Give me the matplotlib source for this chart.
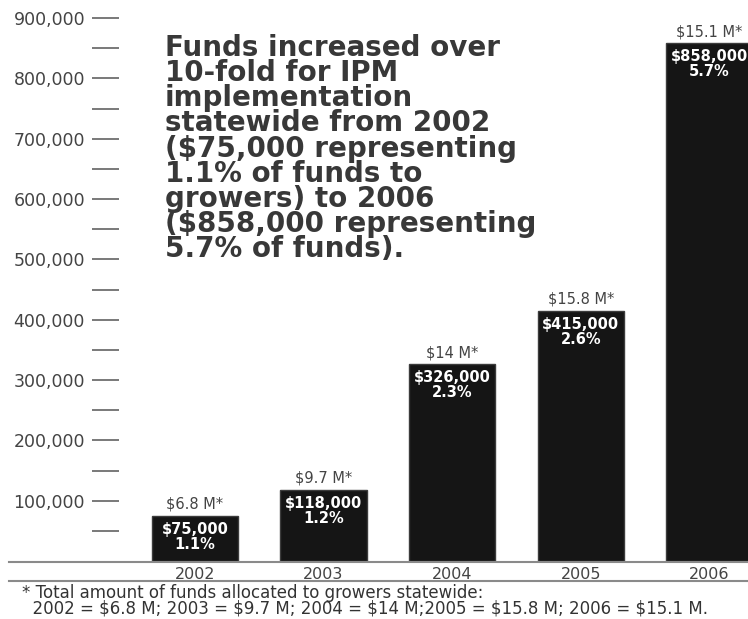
import numpy as np
import matplotlib as mpl
from matplotlib import pyplot as plt
from matplotlib.lines import Line2D
from matplotlib.ticker import FuncFormatter, FixedLocator

years = ['2002', '2003', '2004', '2005', '2006']
funds = [75000, 118000, 326000, 415000, 858000]
pct_labels = ['1.1%', '1.2%', '2.3%', '2.6%', '5.7%']
total_labels = ['$6.8 M*', '$9.7 M*', '$14 M*', '$15.8 M*', '$15.1 M*']

note = ('Funds increased over\n10-fold for IPM\nimplementation\n'
        'statewide from 2002\n($75,000 representing\n1.1% of funds to\n'
        'growers) to 2006\n($858,000 representing\n5.7% of funds).')
footnote = ('* Total amount of funds allocated to growers statewide:\n'
            '  2002 = $6.8 M; 2003 = $9.7 M; 2004 = $14 M;2005 = $15.8 M; '
            '2006 = $15.1 M.')

plt.rcParams['font.family'] = ['DejaVu Sans']
W, H = 748, 619
fig = plt.figure(figsize=(W / 100, H / 100), dpi=100)
ax = fig.add_axes([92 / W, (H - 561) / H, (W - 92) / W, (561 - 6) / H])

x = np.arange(len(years))
ax.bar(x, funds, width=0.67, color='#151515', edgecolor='#3c3c3c', linewidth=1)
ax.set_xlim(-0.80, 4.30)
ax.set_ylim(0, 920000)

for xi, v, t, p in zip(x, funds, total_labels, pct_labels):
    ax.annotate(t, (xi, v), xytext=(0, 4), textcoords='offset pixels',
                ha='center', va='bottom', fontsize=10.5, color='#444444')
    ax.annotate('$' + format(v, ',') + '\n' + p, (xi, v), xytext=(0, -6),
                textcoords='offset pixels', ha='center', va='top',
                fontsize=10.5, fontweight='bold', color='white', linespacing=1.0)

for s in ax.spines.values():
    s.set_visible(False)

ax.yaxis.set_major_locator(FixedLocator(np.arange(100000, 900001, 100000)))
ax.yaxis.set_minor_locator(FixedLocator(np.arange(50000, 850001, 100000)))
ax.yaxis.set_major_formatter(FuncFormatter(lambda v, pos: format(int(v), ',')))
ax.tick_params(axis='y', which='both', direction='in', length=19.5, width=1.1,
               color='#555555', labelsize=12.5, labelcolor='#444444', pad=5)
ax.set_xticks(x)
ax.set_xticklabels(years)
ax.tick_params(axis='x', length=0, labelsize=11.5, labelcolor='#444444', pad=4)

# baseline and separator under the year labels
for yp in (562, 581):
    fig.add_artist(Line2D([9 / W, 1], [1 - yp / H, 1 - yp / H], color='#8a8a8a', lw=1.5))

fig.text(165 / W, 1 - 34 / H, note, ha='left', va='top', fontsize=20,
         fontweight='heavy', color='#383838', linespacing=0.87)
fig.text(22 / W, 1 - 584 / H, footnote, ha='left', va='top', fontsize=12,
         color='#333333', linespacing=0.85)

fig.savefig('out.png', dpi=100)
